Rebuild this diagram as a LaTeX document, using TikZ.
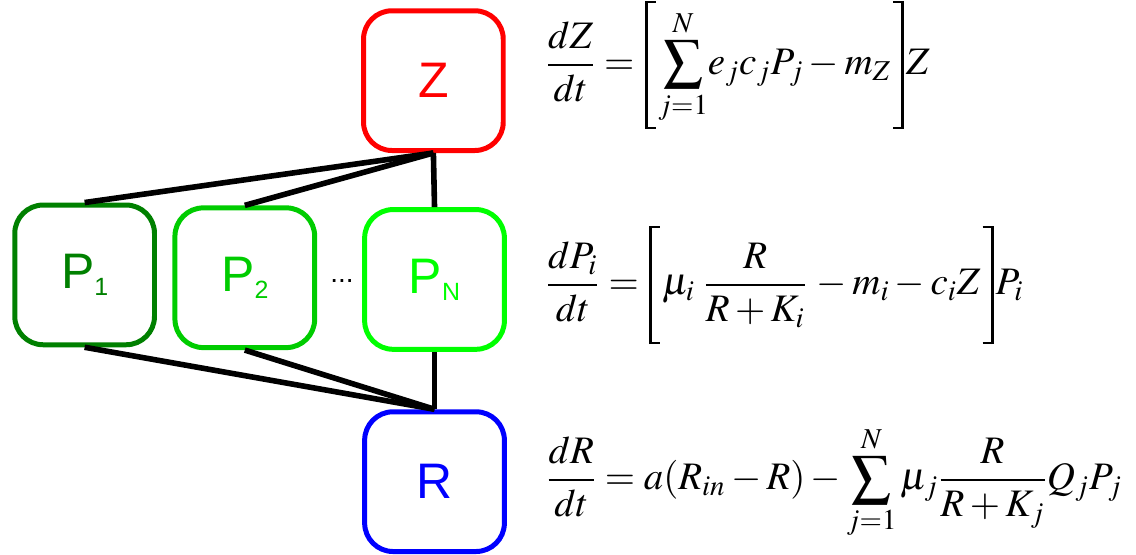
\documentclass[tikz,border=0pt]{standalone}
\usepackage{amsmath}
\usepackage{mathptmx}
\usepackage[no-math]{fontspec}
\setmainfont{Liberation Serif}
\newfontfamily\helv{Liberation Sans}
\usetikzlibrary{positioning}
\definecolor{zred}{HTML}{FF0000}
\definecolor{pdark}{HTML}{008000}
\definecolor{pmid}{HTML}{00CC00}
\definecolor{plight}{HTML}{00FF00}
\definecolor{rblue}{HTML}{0000FF}
\newcommand{\popsub}[1]{{\fontsize{12.5}{14}\selectfont\raisebox{-0.28em}{#1}}}
% tall square brackets of a given total height
\newcommand{\lsq}[1]{\mathopen{\kern1pt\vcenter{\hbox{\vrule width 1.5pt height #1%
  \vbox to #1{\hrule width 4pt height 0.9pt\vfil\hrule width 4pt height 0.9pt}}}\kern1pt}}
\newcommand{\rsq}[1]{\mathclose{\kern1pt\vcenter{\hbox{\vbox to #1{\hrule width 4pt height 0.9pt%
  \vfil\hrule width 4pt height 0.9pt}\vrule width 1.5pt height #1}}\kern1pt}}

\tikzset{
  popbox/.style={draw=#1,text=#1,line width=2.5pt,rounded corners=0.5cm,
    minimum size=2.46cm,inner sep=0pt,font=\helv\fontsize{25}{30}\selectfont},
  link/.style={line width=2.8pt,black},
  eqn/.style={anchor=west,inner sep=0pt,font=\fontsize{19.5}{24}\selectfont}
}

\begin{document}
\begin{tikzpicture}
  \useasboundingbox (0,0) rectangle (20,9.77);
  % boxes
  \node[popbox=zred] (z) at (7.63,8.35) {Z};
  \node[popbox=pdark] (p1) at (1.49,4.93) {P\popsub{1}};
  \node[popbox=pmid] (p2) at (4.31,4.88) {P\popsub{2}};
  \node[popbox=plight] (pn) at (7.65,4.85) {P\popsub{N}};
  \node[popbox=rblue] (r) at (7.65,1.29) {R};
  \node[font=\helv\fontsize{14}{16}\selectfont,anchor=base] (dots) at (6.02,4.80) {...};
  % links
  \draw[link] (p1.north) -- (z.south);
  \draw[link] (p2.north) -- (z.south);
  \draw[link] (pn.north) -- (z.south);
  \draw[link] (p1.south) -- (r.north);
  \draw[link] (p2.south) -- (r.north);
  \draw[link] (pn.south) -- (r.north);
  % equations
  \node[eqn] (eqz) at (9.6,8.63)
    {$\displaystyle\frac{dZ}{dt}=\lsq{64pt}\sum_{j=1}^{N}\!e_jc_jP_j-m_Z\rsq{64pt}Z$};
  \node[eqn] (eqp) at (9.6,4.75)
    {$\displaystyle\frac{dP_i}{dt}=\lsq{59pt}\mu_i\;\frac{R}{R+K_i}\,-m_i-c_iZ\rsq{59pt}P_i$};
  \node[eqn] (eqr) at (9.61,1.27)
    {$\displaystyle\frac{dR}{dt}=a(R_{in}-R)-\sum_{j=1}^{N}\mu_j\frac{R}{R+K_j}Q_jP_j$};
\end{tikzpicture}
\end{document}
